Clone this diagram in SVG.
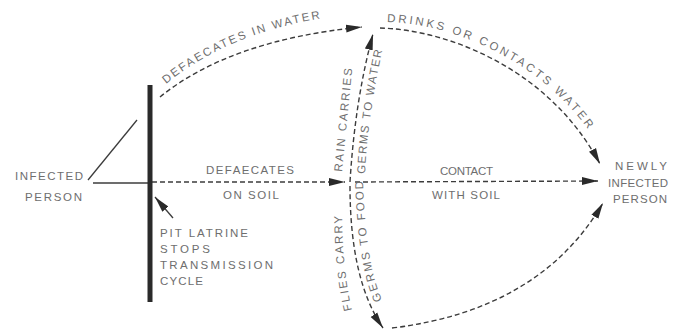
<svg xmlns="http://www.w3.org/2000/svg" width="677" height="331" viewBox="0 0 677 331">
<style>
.t{font-family:"Liberation Sans",Arial,sans-serif;font-size:11.5px;fill:#6e6e6e;}
.tp{font-family:"Liberation Sans",Arial,sans-serif;font-size:11.5px;fill:#6e6e6e;letter-spacing:2px;}
.d{fill:none;stroke:#3c3c3c;stroke-width:1.4;stroke-dasharray:5 3;}
.s{fill:none;stroke:#3c3c3c;stroke-width:1.3;}
</style>
<defs>
<marker id="ah" markerUnits="userSpaceOnUse" markerWidth="17" markerHeight="9" refX="16" refY="4.5" orient="auto">
<path d="M0,0.5 L16,4.5 L0,8.5 z" fill="#2a2a2a"/>
</marker>
<path id="pDIW" d="M166,84 Q234,28 345,15"/>
<path id="pDCW" d="M387,22 C458,24 557,66 606,158"/>
<path id="pRC" d="M342,172 L353,60"/>
<path id="pGW" d="M365,174 Q368,112 385,38"/>
<path id="pFC" d="M352,310 Q342,270 342,205"/>
<path id="pGF" d="M382,300 Q365,262 363,178"/>
</defs>
<rect width="677" height="331" fill="#ffffff"/>

<g id="connectors">
<path class="s" d="M93,183 L150,183"/>
<path class="s" d="M88,180 L137,120"/>
<path class="d" d="M152,182 L345,182" marker-end="url(#ah)"/>
<path class="d" d="M355,182 L598,181" marker-end="url(#ah)"/>
<path class="d" d="M160,97 Q230,40 362,27" marker-end="url(#ah)"/>
<path class="d" d="M380,28 C450,30 550,70 600,164" marker-end="url(#ah)"/>
<path class="d" d="M350,182 Q355,100 373,34" marker-end="url(#ah)"/>
<path class="d" d="M350,186 Q350,280 383,328" marker-end="url(#ah)"/>
<path class="d" d="M392,328 Q540,310 603,203" marker-end="url(#ah)"/>
<path class="s" d="M173,218 L155,197" marker-end="url(#ah)"/>
</g>

<g id="pit-latrine">
<rect x="147.5" y="85" width="5" height="217" fill="#2a2a2a"/>
<text class="t" x="160" y="237" textLength="88" lengthAdjust="spacing">PIT LATRINE</text>
<text class="t" x="160" y="253" textLength="50" lengthAdjust="spacing">STOPS</text>
<text class="t" x="160" y="269" textLength="113" lengthAdjust="spacing">TRANSMISSION</text>
<text class="t" x="160" y="285" textLength="43" lengthAdjust="spacing">CYCLE</text>
</g>

<g id="infected-person">
<text class="t" x="15" y="180" textLength="68" lengthAdjust="spacing">INFECTED</text>
<text class="t" x="25" y="201" textLength="57" lengthAdjust="spacing">PERSON</text>
</g>

<g id="newly-infected-person">
<text class="t" x="615" y="170" textLength="52" lengthAdjust="spacing">NEWLY</text>
<text class="t" x="608" y="187" textLength="60" lengthAdjust="spacing">INFECTED</text>
<text class="t" x="613" y="203" textLength="54" lengthAdjust="spacing">PERSON</text>
</g>

<g id="labels">
<text class="t" x="206" y="174" textLength="88" lengthAdjust="spacing">DEFAECATES</text>
<text class="t" x="223" y="199" textLength="56" lengthAdjust="spacing">ON SOIL</text>
<text class="t" x="440" y="175" textLength="53" lengthAdjust="spacing">CONTACT</text>
<text class="t" x="432" y="199" textLength="68" lengthAdjust="spacing">WITH SOIL</text>
<text class="tp"><textPath href="#pDIW">DEFAECATES IN WATER</textPath></text>
<text class="tp" style="letter-spacing:2.7px"><textPath href="#pDCW">DRINKS OR CONTACTS WATER</textPath></text>
<text class="tp"><textPath href="#pRC">RAIN CARRIES</textPath></text>
<text class="tp" style="letter-spacing:1.6px"><textPath href="#pGW">GERMS TO WATER</textPath></text>
<text class="tp"><textPath href="#pFC">FLIES CARRY</textPath></text>
<text class="tp"><textPath href="#pGF">GERMS TO FOOD</textPath></text>
</g>
</svg>
